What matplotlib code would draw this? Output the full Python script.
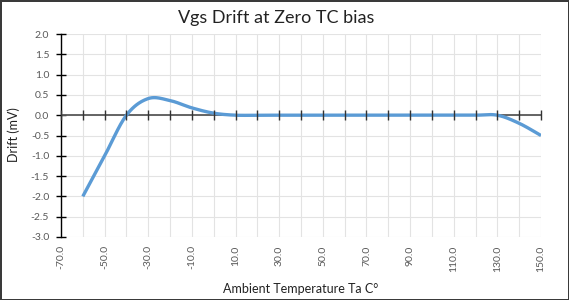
import numpy as np
import matplotlib
matplotlib.use("Agg")
import matplotlib.pyplot as plt

# ---- data ----
temps = [-60, -50, -40, -30, -20, -10, 0, 10, 20, 30, 40, 50, 60, 70, 80, 90, 100, 110, 120, 130, 140, 150]
drift = [-2.0, -1.0, 0.0, 0.41, 0.36, 0.18, 0.05, 0.0, 0.0, 0.0, 0.0, 0.0, 0.0, 0.0, 0.0, 0.0, 0.0, 0.0, 0.0, 0.0, -0.2, -0.5]
x_labels = [-70, -50, -30, -10, 10, 30, 50, 70, 90, 110, 130, 150]
y_ticks = [-3.0, -2.5, -2.0, -1.5, -1.0, -0.5, 0.0, 0.5, 1.0, 1.5, 2.0]

title = "Vgs Drift at Zero TC bias"
xlabel = "Ambient Temperature Ta C°"
ylabel = "Drift (mV)"


def smooth(xs, ys, n=30):
    # Catmull-Rom spline through the points (like a spreadsheet "smoothed line")
    P = np.column_stack([xs, ys]).astype(float)
    P = np.vstack([P[0], P, P[-1]])
    out = []
    for i in range(1, len(P) - 2):
        p0, p1, p2, p3 = P[i - 1], P[i], P[i + 1], P[i + 2]
        t = np.linspace(0, 1, n, endpoint=False)[:, None]
        seg = 0.5 * ((2 * p1) + (-p0 + p2) * t + (2 * p0 - 5 * p1 + 4 * p2 - p3) * t ** 2
                     + (-p0 + 3 * p1 - 3 * p2 + p3) * t ** 3)
        out.append(seg)
    out.append(P[-2][None, :])
    out = np.vstack(out)
    return out[:, 0], out[:, 1]


plt.rcParams['font.family'] = ['Lato', 'DejaVu Sans']

fig = plt.figure(figsize=(5.69, 3.0), dpi=100)
fig.patch.set_edgecolor('#3a3a3a')
fig.patch.set_linewidth(2)
ax = fig.add_axes([61 / 569, 1 - 237 / 300, 480 / 569, 203 / 300])

sx, sy = smooth(temps, drift)
ax.axhline(0, color='#595959', lw=1.3, zorder=3)
ax.plot(sx, sy, color='#5B9BD5', lw=2.4, solid_capstyle='butt', zorder=5)

ax.set_xlim(-70, 150)
ax.set_ylim(-3, 2)

ax.set_xticks(x_labels)
ax.set_xticklabels([f"{v:.1f}" for v in x_labels], rotation=90, color='#595959', fontsize=7.5)
ax.set_xticks(np.arange(-70, 151, 10), minor=True)
ax.tick_params(axis='x', which='both', length=0, pad=6)

ax.set_yticks(y_ticks)
ax.set_yticklabels([f"{v:.1f}" for v in y_ticks], color='#595959', fontsize=7.5)
ax.tick_params(axis='y', direction='inout', length=7, width=1, color='black', pad=5)

ax.grid(True, which='both', color='#e3e3e3', lw=0.8)
ax.set_axisbelow(True)

for s in ['top', 'right', 'bottom']:
    ax.spines[s].set_visible(False)
ax.spines['left'].set_color('black')
ax.spines['left'].set_linewidth(1)

# x axis tick marks crossing at y = 0
sec = ax.secondary_xaxis(3 / 5)
sec.set_zorder(6)
sec.set_xticks(np.arange(-70, 151, 10))
sec.set_xticklabels([])
sec.tick_params(direction='inout', length=7, width=1.0, color='#333333')
sec.spines['bottom'].set_visible(False)
sec.spines['top'].set_visible(False)

fig.text(0.485, 0.94, title, ha='center', va='center', fontsize=13, color='#222222')
fig.text(301 / 569, 1 - 289 / 300, xlabel, ha='center', va='center', fontsize=9, color='#222222')
fig.text(14 / 569, 1 - 135 / 300, ylabel, ha='center', va='center', rotation=90, fontsize=9, color='#222222')

fig.savefig('out.png', dpi=100)
